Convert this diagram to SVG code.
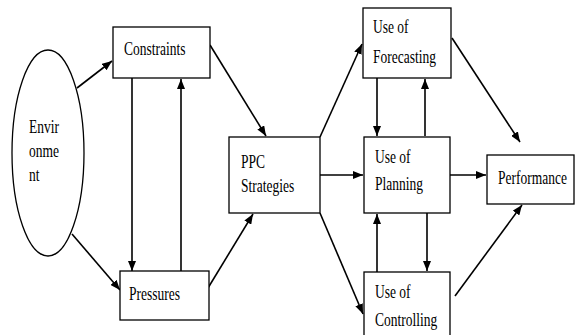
<svg xmlns="http://www.w3.org/2000/svg" width="575" height="335" viewBox="0 0 575 335">
<style>
.box{fill:#fff;stroke:#000;stroke-width:1.3}
.t{font-family:"Liberation Serif","Times New Roman",serif;font-size:13.5px;fill:#000}
.c{stroke:#000;stroke-width:1.6;fill:none;marker-end:url(#ah)}
</style>
<defs>
<marker id="ah" viewBox="0 0 10 8" refX="10" refY="4" markerWidth="10" markerHeight="8" markerUnits="userSpaceOnUse" orient="auto">
<path d="M0,0 L10,4 L0,8 Z" fill="#000"/>
</marker>
</defs>
<rect width="575" height="335" fill="#fff"/>
<g id="connectors">
<line class="c" x1="77" y1="88" x2="112" y2="61"/>
<line class="c" x1="72" y1="234" x2="120" y2="290"/>
<line class="c" x1="132" y1="78" x2="132" y2="271"/>
<line class="c" x1="181" y1="271" x2="181" y2="79"/>
<line class="c" x1="210" y1="45" x2="266" y2="136"/>
<line class="c" x1="208" y1="288" x2="253" y2="214"/>
<line class="c" x1="320" y1="137" x2="362" y2="44"/>
<line class="c" x1="315" y1="175" x2="363" y2="175"/>
<line class="c" x1="320" y1="213" x2="363" y2="314"/>
<line class="c" x1="377" y1="78" x2="377" y2="136"/>
<line class="c" x1="425" y1="136" x2="425" y2="79"/>
<line class="c" x1="377" y1="272" x2="377" y2="214"/>
<line class="c" x1="427" y1="213" x2="427" y2="271"/>
<line class="c" x1="450" y1="175" x2="486" y2="175"/>
<line class="c" x1="452" y1="38" x2="520" y2="142"/>
<line class="c" x1="455" y1="296" x2="522" y2="205"/>
</g>
<g id="environment">
<ellipse class="box" cx="48" cy="153" rx="36" ry="103"/>
<text class="t" transform="translate(29,133) scale(1,1.35)">Envir</text>
<text class="t" transform="translate(29,157) scale(1,1.35)">onme</text>
<text class="t" transform="translate(29,181) scale(1,1.35)">nt</text>
</g>
<g id="constraints">
<rect class="box" x="113" y="27" width="97" height="51"/>
<text class="t" transform="translate(124,55) scale(1,1.35)">Constraints</text>
</g>
<g id="pressures">
<rect class="box" x="120" y="271" width="89" height="49"/>
<text class="t" transform="translate(129,300) scale(1,1.35)">Pressures</text>
</g>
<g id="ppc">
<rect class="box" x="229" y="137" width="91" height="76"/>
<text class="t" transform="translate(241,168) scale(1,1.35)">PPC</text>
<text class="t" transform="translate(241,192) scale(1,1.35)">Strategies</text>
</g>
<g id="forecasting">
<rect class="box" x="363" y="8" width="88" height="70"/>
<text class="t" transform="translate(373,33) scale(1,1.35)">Use of</text>
<text class="t" transform="translate(373,63) scale(1,1.35)">Forecasting</text>
</g>
<g id="planning">
<rect class="box" x="364" y="137" width="86" height="76"/>
<text class="t" transform="translate(375,163) scale(1,1.35)">Use of</text>
<text class="t" transform="translate(375,190) scale(1,1.35)">Planning</text>
</g>
<g id="controlling">
<rect class="box" x="364" y="272" width="86" height="66"/>
<text class="t" transform="translate(375,298) scale(1,1.35)">Use of</text>
<text class="t" transform="translate(375,326) scale(1,1.35)">Controlling</text>
</g>
<g id="performance">
<rect class="box" x="487" y="155" width="87" height="49"/>
<text class="t" transform="translate(498,184) scale(1,1.35)">Performance</text>
</g>
</svg>
